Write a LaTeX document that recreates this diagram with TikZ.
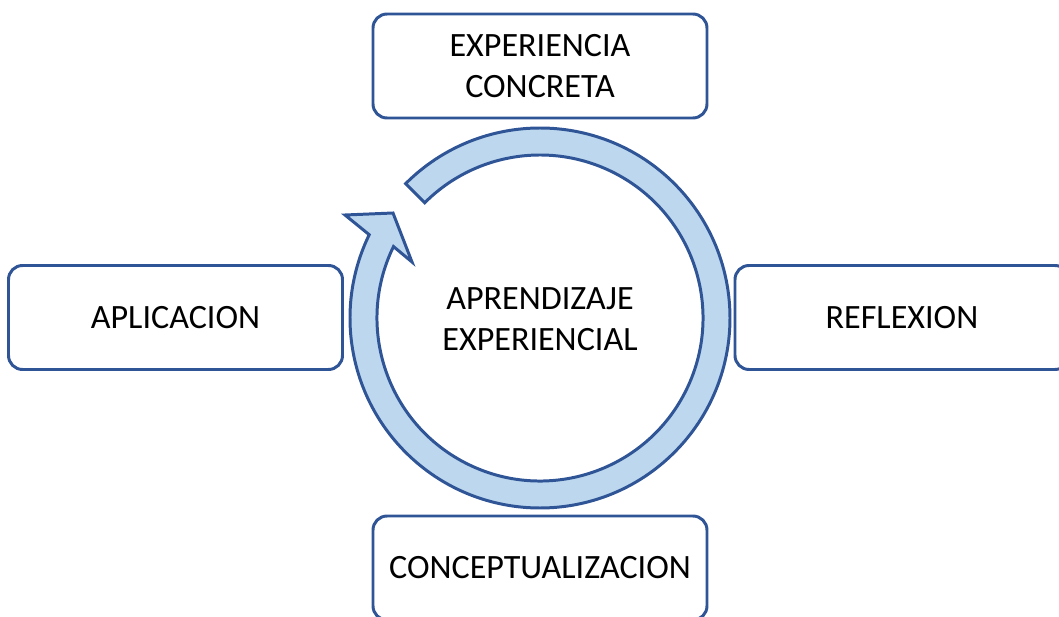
\documentclass[tikz,border=0pt]{standalone}
\usepackage{fontspec}
\setmainfont{Carlito}
\usetikzlibrary{calc}
\definecolor{edgeblue}{RGB}{47,85,151}
\definecolor{fillblue}{RGB}{189,215,238}
\tikzset{
  stagebox/.style={draw=edgeblue, line width=1.7pt, fill=white, rounded corners=8pt,
    minimum width=334*0.02cm, minimum height=104*0.02cm, inner sep=0pt,
    font=\fontsize{19.4}{23.4}\selectfont, align=center, text=black},
  cyclearrow/.style={draw=edgeblue, line width=1.7pt, fill=fillblue, line join=miter},
  centertext/.style={font=\fontsize{19.4}{23.6}\selectfont, align=center, text=black}
}
\begin{document}
\begin{tikzpicture}[x=0.02cm, y=0.02cm]
\useasboundingbox (0,0) rectangle (1059,616);
\clip (0,0) rectangle (1059,616);
\coordinate (C) at (540,298);
% circular arrow
\draw[cyclearrow] ($(C)+(135:190)$) arc[start angle=135, end angle=-206, radius=190]
  -- (345,401) -- (393,403) -- (412,354)
  -- ($(C)+(154:163)$) arc[start angle=154, end angle=495, radius=163] -- cycle;
\node[centertext] (center) at (540,297) {APRENDIZAJE\\EXPERIENCIAL};
% boxes
\node[stagebox] (exp) at (540,550) {EXPERIENCIA\\CONCRETA};
\node[stagebox] (ref) at (902,298.5) {REFLEXION};
\node[stagebox] (con) at (540,48) {CONCEPTUALIZACION};
\node[stagebox] (apl) at (175.5,298.5) {APLICACION};
\end{tikzpicture}
\end{document}
